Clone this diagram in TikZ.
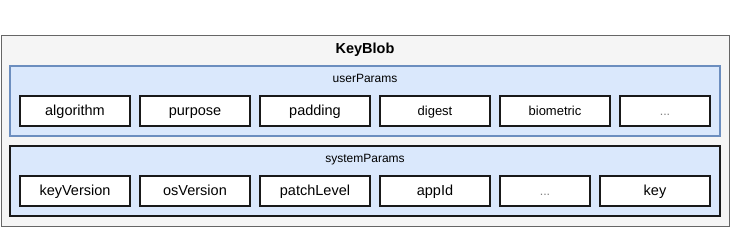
\documentclass[tikz,border=0pt]{standalone}
\usepackage{fontspec}
\setmainfont{Liberation Sans}
\usetikzlibrary{positioning}
\definecolor{blobfill}{HTML}{F5F5F5}
\definecolor{blobdraw}{HTML}{666666}
\definecolor{paramfill}{HTML}{DAE8FC}
\definecolor{paramdraw}{HTML}{6C8EBF}
\definecolor{dotsgray}{HTML}{808080}
\newcommand{\fsz}[1]{\fontsize{#1}{#1}\selectfont}
\tikzset{
  blob/.style={draw=blobdraw,fill=blobfill,line width=1pt,inner sep=0pt},
  group/.style={fill=paramfill,inner sep=0pt,minimum width=710pt,minimum height=70pt},
  title/.style={inner sep=0pt,text height=1.1em,text depth=0.15em,font=\fsz{12}},
  field/.style={draw=black!90,fill=white,line width=2pt,inner sep=0pt,minimum height=30pt,
    text height=1.1em,text depth=0.15em,font=\fsz{14.5}},
  small/.style={font=\fsz{13}},
  dots/.style={text=dotsgray,font=\fsz{12.5}},
}

\begin{document}
\begin{tikzpicture}[x=1pt,y=-1pt]
\useasboundingbox (0,0) rectangle (731,227);
% outer KeyBlob container
\node[blob,minimum width=728pt,minimum height=190pt] (blob) at (365,131){};
\node[title,font=\bfseries\fsz{14.5}] (blobT) at (365,49){KeyBlob};
% userParams
\node[group,draw=paramdraw,line width=1.5pt] (user) at (365,101){};
\node[title] (userT) at (365,78){userParams};
\foreach \x/\w/\n/\t/\s in {75/110/alg/algorithm/{},195/110/pur/purpose/{},315/110/pad/padding/{},
  435/110/dig/digest/small,555/110/bio/biometric/small,665/90/udots/{...}/dots}{
  \node[field,minimum width=\w pt,\s] (\n) at (\x,111){\t};
}
% systemParams
\node[group,draw=black!90,line width=2pt] (sys) at (365,181){};
\node[title] (sysT) at (365,158){systemParams};
\foreach \x/\w/\n/\t/\s in {75/110/kver/keyVersion/{},195/110/osver/osVersion/{},315/110/plvl/patchLevel/{},
  435/110/app/appId/{},545/90/sdots/{...}/dots,655/110/key/key/{}}{
  \node[field,minimum width=\w pt,\s] (\n) at (\x,191){\t};
}
\end{tikzpicture}
\end{document}
